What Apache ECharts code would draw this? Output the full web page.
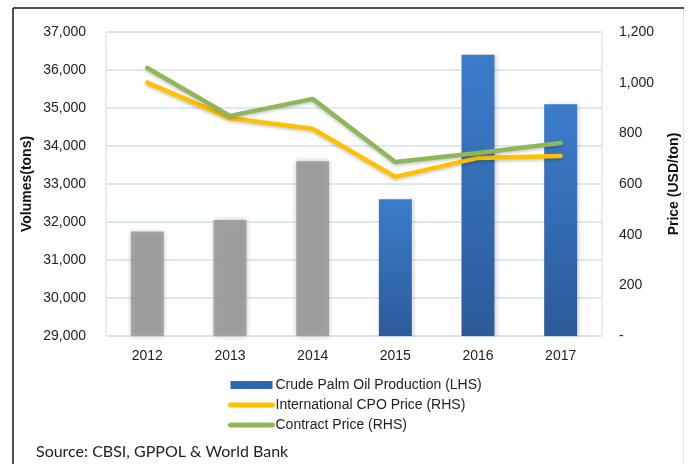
<!DOCTYPE html>
<html>
<head>
<meta charset="utf-8">
<script src="https://cdn.jsdelivr.net/npm/echarts@6/dist/echarts.min.js"></script>
<style>
  html, body { margin: 0; padding: 0; background: #fff; }
  #chart { width: 690px; height: 464px; }
</style>
</head>
<body>
<div id="chart"></div>
<script>
// 数据
const years = ['2012', '2013', '2014', '2015', '2016', '2017'];
const production = [31750, 32050, 33600, 32600, 36400, 35100];   // LHS, tons
const cpoPrice = [1000, 860, 818, 628, 703, 711];                // RHS, USD/ton
const contractPrice = [1058, 869, 936, 687, 722, 762];           // RHS, USD/ton
const greyYears = 3; // first three bars drawn grey

const fmt = v => v === 0 ? '-' : v.toLocaleString('en-US');

const blueGrad = new echarts.graphic.LinearGradient(0, 0, 0, 1, [
  { offset: 0, color: '#3b7dcb' },
  { offset: 1, color: '#2c5b9a' }
]);

const chart = echarts.init(document.getElementById('chart'));

chart.setOption({
  animation: false,
  textStyle: { fontFamily: 'Liberation Sans, Arial, sans-serif' },
  grid: {
    left: 106, top: 32, width: 496, height: 304,
    show: true, borderColor: '#d3dbe6', borderWidth: 1
  },
  //外框和来源
  graphic: [
    { type: 'line', shape: { x1: 13, y1: 8, x2: 684, y2: 8 },
      style: { stroke: '#1a1a1a', lineWidth: 1.5 } },
    { type: 'line', shape: { x1: 13, y1: 8, x2: 13, y2: 464 },
      style: { stroke: '#1a1a1a', lineWidth: 1.5 } },
    { type: 'line', shape: { x1: 683.5, y1: 9, x2: 683.5, y2: 464 },
      style: { stroke: '#e0e0e0', lineWidth: 1 } },
    { type: 'text', left: 36, top: 444,
      style: { text: 'Source: CBSI, GPPOL & World Bank', fill: '#222',
               font: '16px Lato, "Open Sans", sans-serif' } }
  ],
  legend: {
    orient: 'vertical',
    left: 228, top: 378, padding: 0,
    itemWidth: 42, itemHeight: 8, itemGap: 6,
    textStyle: { fontSize: 14, color: '#222', padding: [0, 0, 0, -2] },
    data: [
      { name: 'Crude Palm Oil Production (LHS)', icon: 'rect',
        itemStyle: { color: '#2f66ad' } },
      { name: 'International CPO Price (RHS)',
        itemStyle: { opacity: 0 }, lineStyle: { width: 5, cap: 'round' } },
      { name: 'Contract Price (RHS)',
        itemStyle: { opacity: 0 }, lineStyle: { width: 5, cap: 'round' } }
    ]
  },
  xAxis: {
    type: 'category',
    data: years,
    axisLine: { show: false },
    axisTick: { show: false },
    axisLabel: { fontSize: 14, color: '#222', margin: 13 }
  },
  yAxis: [
    {
      type: 'value',
      min: 29000, max: 37000, interval: 1000,
      name: 'Volumes(tons)',
      nameLocation: 'middle', nameGap: 72, nameMoveOverlap: false,
      nameTextStyle: { fontSize: 14, fontWeight: 'bold', color: '#111' },
      axisLine: { show: false },
      axisTick: { show: false },
      axisLabel: { fontSize: 14, color: '#222', margin: 20, formatter: fmt },
      splitLine: { lineStyle: { color: '#d2e1f2', width: 1.5 } }
    },
    {
      type: 'value',
      min: 0, max: 1200, interval: 200,
      name: 'Price (USD/ton)',
      nameLocation: 'middle', nameGap: 65, nameMoveOverlap: false,
      nameRotate: 90,
      nameTextStyle: { fontSize: 14, fontWeight: 'bold', color: '#111' },
      axisLine: { show: false },
      axisTick: { show: false },
      axisLabel: { fontSize: 14, color: '#222', margin: 17, formatter: fmt },
      splitLine: { show: false }
    }
  ],
  series: [
    {
      name: 'Crude Palm Oil Production (LHS)',
      type: 'bar',
      yAxisIndex: 0,
      barWidth: 33,
      data: production.map((v, i) => ({
        value: v,
        itemStyle: i < greyYears
          ? { color: 'rgba(150,150,150,0.8)', shadowBlur: 5, shadowColor: 'rgba(160,160,160,0.9)' }
          : { color: blueGrad, shadowBlur: 4, shadowOffsetX: 2, shadowColor: 'rgba(0,0,0,0.15)' }
      }))
    },
    {
      name: 'International CPO Price (RHS)',
      type: 'line',
      yAxisIndex: 1,
      data: cpoPrice,
      symbol: 'none',
      lineStyle: { color: '#ffc000', width: 4.5, cap: 'round',
                   shadowBlur: 3, shadowOffsetY: 2, shadowColor: 'rgba(0,0,0,0.2)' },
      itemStyle: { color: '#ffc000' }
    },
    {
      name: 'Contract Price (RHS)',
      type: 'line',
      yAxisIndex: 1,
      data: contractPrice,
      symbol: 'none',
      lineStyle: { color: '#8fb658', width: 4.5, cap: 'round',
                   shadowBlur: 3, shadowOffsetY: 2, shadowColor: 'rgba(0,0,0,0.2)' },
      itemStyle: { color: '#8fb658' }
    }
  ]
});
</script>
</body>
</html>
